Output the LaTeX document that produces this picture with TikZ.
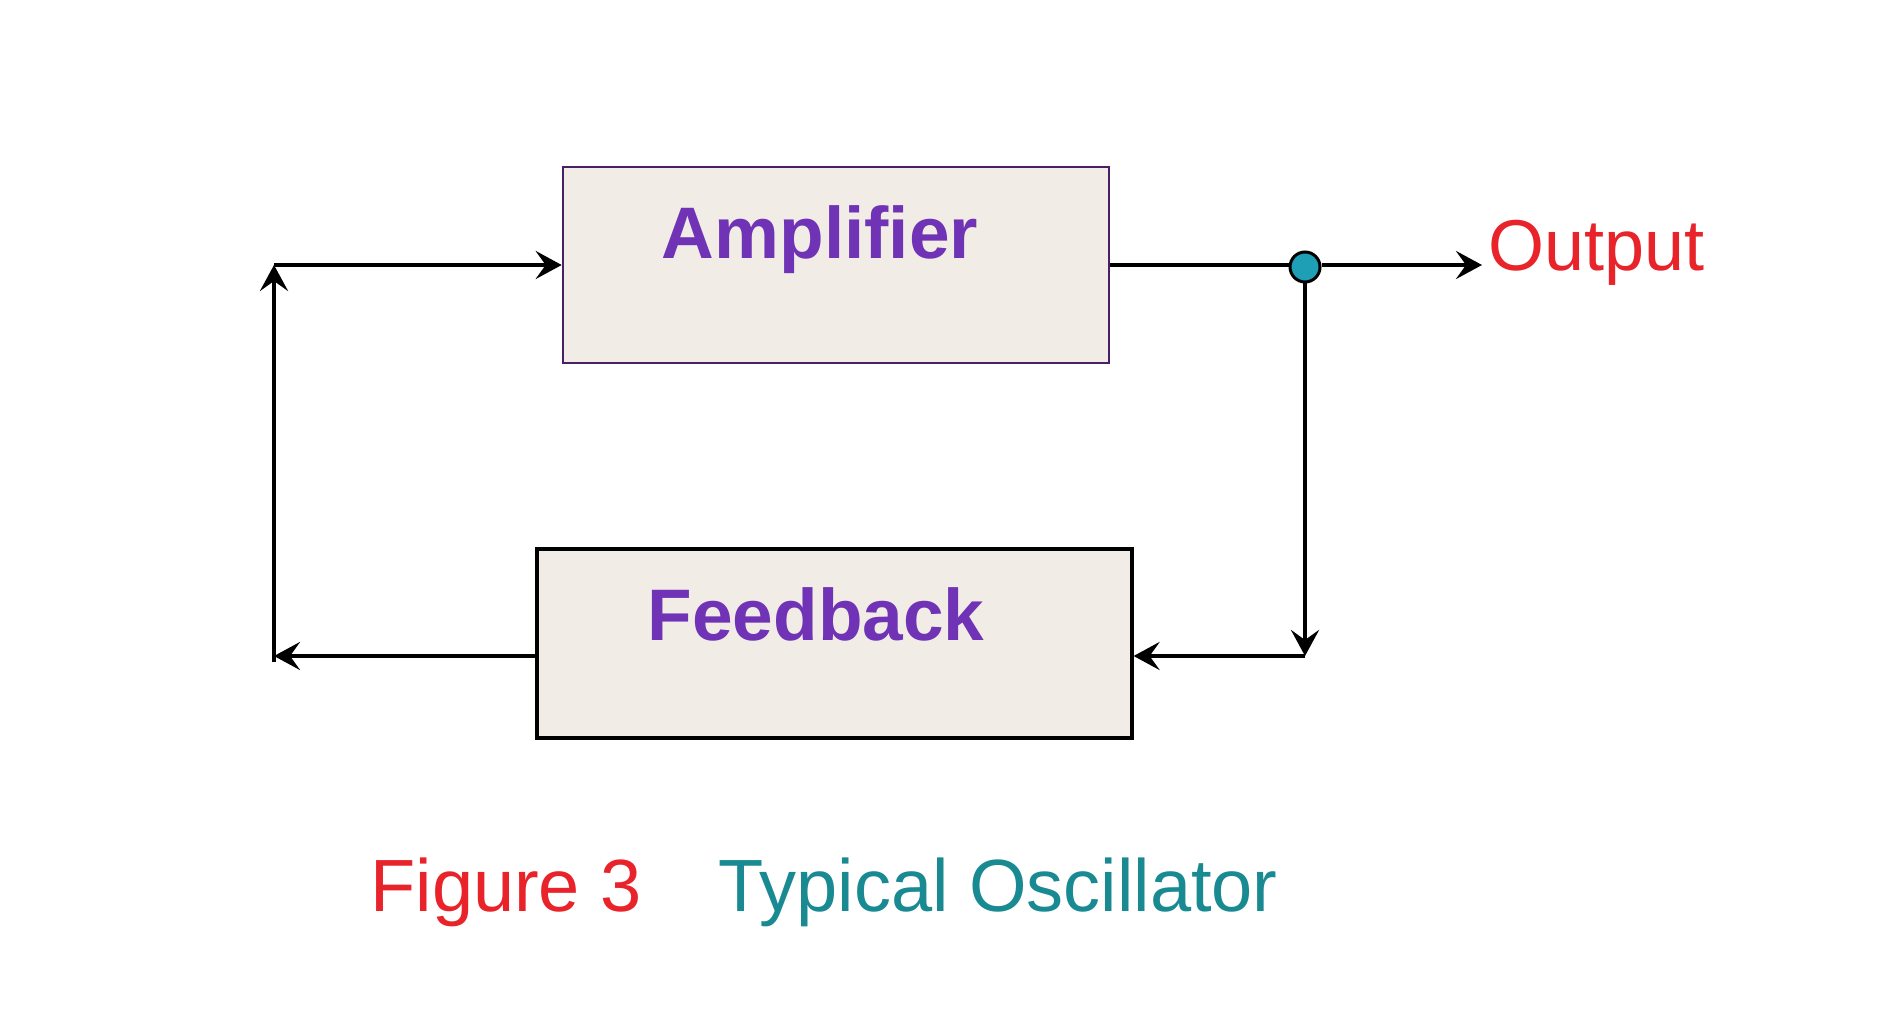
\documentclass[tikz,border=0pt]{standalone}
\usepackage{fontspec}
\setmainfont{Liberation Sans}
\usetikzlibrary{arrows.meta}
\definecolor{boxfill}{HTML}{F1EDE6}
\definecolor{boxtxt}{HTML}{7033B5}
\definecolor{ampedge}{HTML}{4B1E66}
\definecolor{outred}{HTML}{E8232A}
\definecolor{capteal}{HTML}{1A8A92}
\definecolor{jointeal}{HTML}{1E9FB5}
\begin{document}
\begin{tikzpicture}[x=0.5pt,y=0.5pt,
    >={Stealth[length=13pt,width=14pt,inset=5pt]},
    wire/.style={line width=2pt,black},
    block/.style={draw,fill=boxfill,inner sep=0pt},
    blocktext/.style={text=boxtxt,font=\fontsize{36.5}{40}\selectfont\bfseries,inner sep=0pt,anchor=base},
    captext/.style={font=\fontsize{37}{42}\selectfont,inner sep=0pt,anchor=base west}]
    \useasboundingbox[fill=white] (0,0) rectangle (1904,1024);

    % blocks
    \node[block,draw=ampedge,line width=1.3pt,minimum width=273pt,minimum height=98pt] (amp) at (836,759) {};
    \node[blocktext] (amplabel) at (820,765) {Amplifier};
    \node[block,draw=black,line width=1.6pt,minimum width=297.5pt,minimum height=94.5pt] (fb) at (834.5,380.5) {};
    \node[blocktext] (fblabel) at (816,384) {Feedback};

    % output side
    \node[circle,draw=black,line width=1.5pt,fill=jointeal,minimum size=15pt,inner sep=0pt] (dot) at (1305,757) {};
    \node[captext,text=outred,inner sep=3pt,font=\fontsize{36}{40}\selectfont] (out) at (1482,753) {Output};
    \coordinate (rc) at (1305,368);
    \coordinate (lb) at (274,368);
    \coordinate (lt) at (274,759);

    \draw[wire] (amp.east) -- (amp.east -| dot.west);
    \draw[wire,->] (amp.east -| dot.east) -- (amp.east -| out.west);
    \draw[wire,->] (dot.south) -- (rc);
    \draw[wire,->] (rc) -- (rc -| fb.east);
    \draw[wire,->] (lb -| fb.west) -- (lb);
    \draw[wire,->] ([yshift=-3]lb) -- (lt);
    \draw[wire,->] (lt) -- (amp.west);

    % caption
    \node[captext,text=outred] (fignum) at (370,113) {Figure 3};
    \node[captext,text=capteal] (figname) at (718,113) {Typical Oscillator};
\end{tikzpicture}
\end{document}
